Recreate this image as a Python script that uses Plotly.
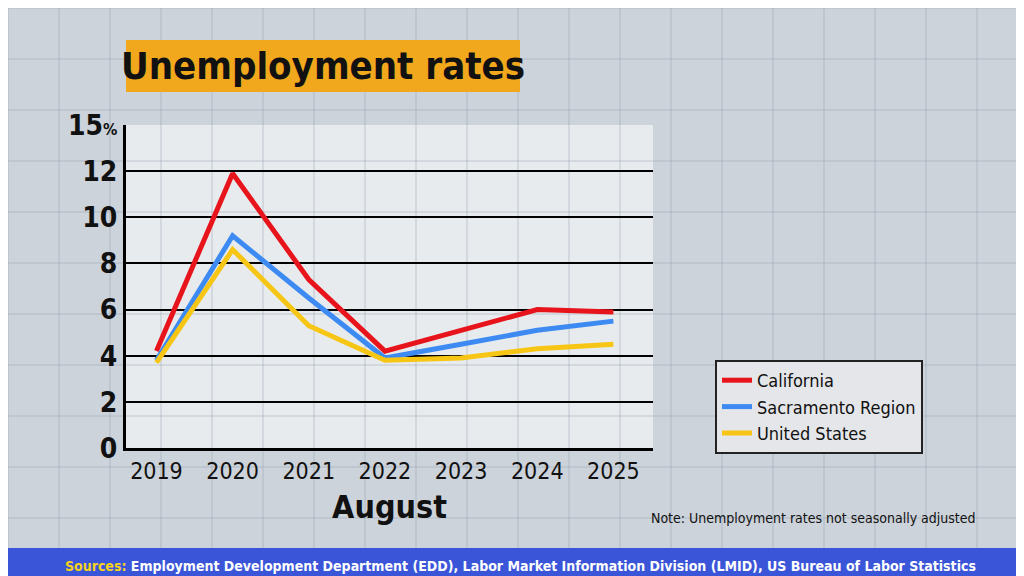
import plotly.graph_objects as go

years = [2019, 2020, 2021, 2022, 2023, 2024, 2025]
california = [4.2, 11.9, 7.3, 4.2, 5.1, 6.0, 5.9]
sacramento = [3.8, 9.2, 6.5, 3.9, 4.5, 5.1, 5.5]
united_states = [3.7, 8.6, 5.3, 3.8, 3.9, 4.3, 4.5]
tick_vals = [0, 2, 4, 6, 8, 10, 12, 14]
tick_text = ["0", "2", "4", "6", "8", "10", "12", "15<span style='font-size:16px'>%</span>"]

FONT = "DejaVu Sans Condensed, DejaVu Sans, sans-serif"

fig = go.Figure()
for name, vals, col in [("California", california, "#e8141c"),
                        ("Sacramento Region", sacramento, "#3d8bf2"),
                        ("United States", united_states, "#f7c614")]:
    fig.add_trace(go.Scatter(x=years, y=vals, name=name, mode="lines",
                             line=dict(color=col, width=5)))

shapes = []
# background grid of the backdrop
for i in range(0, 1025, 51):
    shapes.append(dict(type="line", xref="paper", yref="paper", layer="below",
                       x0=(i - 118) / 527, x1=(i - 118) / 527, y0=-136 / 323, y1=459 / 323,
                       line=dict(color="rgba(150,160,175,0.5)", width=1)))
for j in range(0, 577, 51):
    shapes.append(dict(type="line", xref="paper", yref="paper", layer="below",
                       x0=-118 / 527, x1=906 / 527, y0=(440 - j) / 323, y1=(440 - j) / 323,
                       line=dict(color="rgba(150,160,175,0.5)", width=1)))
# title box
shapes.append(dict(type="rect", xref="paper", yref="paper", x0=0, x1=394 / 527,
                   y0=(440 - 84) / 323, y1=(440 - 32) / 323, fillcolor="#f2a81d", line_width=0))
# source bar
shapes.append(dict(type="rect", xref="paper", yref="paper", x0=-118 / 527, x1=906 / 527,
                   y0=-136 / 323, y1=-100 / 323, fillcolor="#3a55d8", line_width=0))

fig.update_layout(
    width=1024, height=576,
    margin=dict(l=118, r=379, t=117, b=136),
    paper_bgcolor="#cdd3da", plot_bgcolor="rgba(255,255,255,0.55)",
    showlegend=True,
    legend=dict(x=589 / 527, y=(440 - 352) / 323, xanchor="left", yanchor="top",
                bgcolor="#e4e6e9", bordercolor="#222", borderwidth=2,
                font=dict(family=FONT, size=18, color="#111"), tracegroupgap=0),
    xaxis=dict(range=[2018.6, 2025.52], tickvals=years, showgrid=False, zeroline=False,
               ticks="", showline=True, linecolor="black", linewidth=3,
               tickprefix="<b>", ticksuffix="</b>",
               tickfont=dict(family=FONT, size=23, color="#111"),
               title=dict(text="<b>August</b>", font=dict(family=FONT, size=32, color="#111"), standoff=14)),
    yaxis=dict(range=[0, 14], tickvals=tick_vals, ticktext=["<b>" + t + "</b>" for t in tick_text],
               showgrid=True, gridcolor="black", gridwidth=2, zeroline=False, ticks="",
               showline=True, linecolor="black", linewidth=3,
               tickfont=dict(family=FONT, size=28, color="#111")),
    shapes=shapes,
    annotations=[
        dict(text="<b>Unemployment rates</b>", xref="paper", yref="paper", x=197 / 527,
             y=(440 - 58) / 323, xanchor="center", yanchor="middle", showarrow=False,
             font=dict(family=FONT, size=38, color="#111")),
        dict(text="Note: Unemployment rates not seasonally adjusted", xref="paper", yref="paper",
             x=852 / 527, y=(440 - 510) / 323, xanchor="right", yanchor="middle", showarrow=False,
             font=dict(family=FONT, size=14, color="#111")),
        dict(text="<b><span style='color:#f7d21c'>Sources:</span> Employment Development Department (EDD), "
                  "Labor Market Information Division (LMID), US Bureau of Labor Statistics</b>",
             xref="paper", yref="paper", x=394 / 527, y=(440 - 558) / 323,
             xanchor="center", yanchor="middle", showarrow=False,
             font=dict(family=FONT, size=14, color="white")),
    ],
)

fig.write_html("out.html")
